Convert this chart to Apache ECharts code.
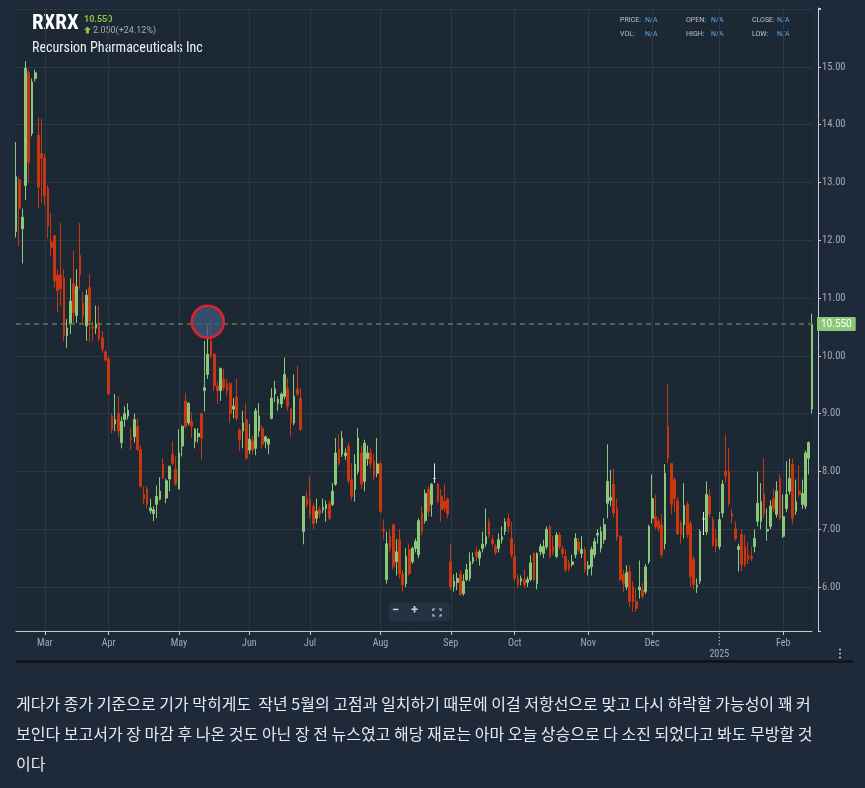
<!DOCTYPE html>
<html><head><meta charset="utf-8">
<script src="https://cdn.jsdelivr.net/npm/echarts@6/dist/echarts.min.js"></script>
<style>html,body{margin:0;padding:0;background:#1e2a39;} #c{width:865px;height:788px;}</style>
</head><body><div id="c"></div>
<script>
// ---------- data ----------
const holidays = ['2024-02-19','2024-03-29','2024-05-27','2024-06-19','2024-07-04','2024-09-02','2024-11-28','2024-12-25','2025-01-01','2025-01-09','2025-01-20'];
const startDate = '2024-02-16', endDate = '2025-02-14';
const opens = [
12.15,13.05,12.2,12.95,14.9,13.85,14.8,13.82,13.5,13.42,
12.9,11.97,12.08,11.4,11.4,11.35,10.35,10.55,11.25,10.7,
11.74,10.92,10.52,11.18,10.5,10.48,10.57,10.31,10.07,9.95,
8.96,8.82,9.0,8.5,8.9,8.96,8.58,8.6,8.78,8.38,
7.6,7.7,7.32,7.27,7.43,7.52,8.13,7.54,7.87,8.3,
8.04,7.7,8.44,9.22,8.84,8.87,8.52,8.6,9.0,9.4,
9.68,10.26,10.03,9.48,9.4,9.6,9.52,9.52,9.08,9.29,
8.72,8.7,8.9,8.37,8.53,8.4,8.7,8.75,8.52,8.47,
8.92,9.34,9.18,9.17,9.3,9.43,9.08,8.84,9.43,9.27,
6.96,7.53,7.52,7.4,7.19,7.34,7.34,7.36,7.45,7.43,
7.78,8.39,8.3,8.27,8.44,7.86,7.69,8.0,8.32,7.83,
8.22,8.32,8.18,7.97,8.14,7.0,6.13,6.88,7.08,6.44,
6.82,6.23,6.06,6.65,6.44,6.67,6.56,7.28,7.15,7.69,
7.43,7.88,7.78,7.57,7.48,7.52,6.44,6.01,6.08,6.22,
5.89,6.13,6.15,6.44,6.61,6.5,6.67,6.75,7.13,6.82,
6.7,6.67,6.82,6.96,7.19,6.84,6.53,6.15,6.1,6.13,
6.08,6.13,6.58,6.06,6.61,6.58,6.7,7.05,6.7,6.53,
6.9,6.67,6.53,6.41,6.39,6.56,6.78,6.58,6.65,6.32,
6.35,6.56,6.9,6.67,6.82,7.45,7.5,7.78,7.36,6.87,
6.22,6.0,6.27,6.01,5.75,5.95,5.95,5.92,6.44,7.19,
7.22,7.14,7.08,6.75,8.78,8.14,7.86,7.5,7.1,7.08,
7.43,7.1,6.48,6.0,6.1,7.18,6.96,7.57,7.17,6.84,
6.7,7.28,8.01,8.01,7.27,7.01,6.65,6.91,6.7,6.56,
6.53,6.7,7.14,7.14,7.62,6.97,7.05,7.53,7.26,7.88,
6.88,7.36,7.66,8.13,7.31,7.66,7.43,7.4,8.23,9.08];
const closes = [
13.1,12.55,12.4,14.98,13.35,14.74,14.9,12.92,13.42,12.78,
12.25,11.88,11.3,11.13,11.16,10.35,10.48,10.95,10.75,11.2,
11.4,10.7,11.05,10.6,10.48,10.55,10.3,10.12,9.93,9.34,
8.73,8.9,8.7,8.87,9.0,9.06,8.56,8.9,8.38,7.74,
7.52,7.43,7.37,7.34,7.57,7.66,7.89,7.84,8.09,8.14,
7.78,8.32,8.78,8.78,9.18,8.78,8.73,8.66,8.58,9.45,
10.03,10.0,9.48,9.4,9.78,9.45,9.4,9.0,9.13,8.92,
8.56,8.84,8.23,8.56,8.37,9.05,8.96,8.47,8.6,8.56,
9.27,9.43,9.25,9.34,9.68,9.13,8.84,9.3,9.34,8.73,
7.57,7.43,7.26,7.1,7.31,7.27,7.38,7.43,7.19,7.66,
8.32,8.14,8.58,8.32,7.84,7.57,8.13,8.58,7.78,8.49,
8.32,8.14,7.92,8.13,7.31,6.97,6.75,6.67,6.35,6.61,
6.23,6.04,6.53,6.23,6.67,6.79,7.15,6.96,7.62,7.31,
7.78,7.88,7.48,7.34,7.36,7.26,6.0,6.1,6.15,5.87,
6.1,6.3,6.44,6.51,6.53,6.61,6.74,6.87,6.9,6.75,
6.6,6.82,6.87,7.13,7.05,6.56,6.15,6.04,6.15,6.04,
6.13,6.42,6.13,6.58,6.7,6.7,7.0,6.53,6.61,6.9,
6.7,6.58,6.3,6.32,6.44,6.84,6.65,6.65,6.3,6.37,
6.65,6.79,6.93,6.96,7.08,7.83,7.55,7.28,6.87,6.13,
6.06,6.25,5.75,5.75,5.63,6.0,5.84,6.35,7.05,7.53,
7.05,7.01,6.56,7.97,8.23,7.43,7.53,6.92,6.91,7.41,
6.91,6.18,6.04,6.03,6.96,7.18,7.6,7.26,6.73,6.7,
7.17,7.78,7.92,7.45,7.22,6.84,6.7,6.39,6.39,6.48,
6.49,6.84,7.45,7.48,7.27,7.0,7.4,7.36,7.66,7.19,
7.22,7.6,7.88,7.19,7.48,7.6,7.62,8.32,8.5,10.55];
const lows = [
12.05,11.9,11.6,12.7,13.0,13.8,14.75,12.55,12.65,12.6,
12.03,11.74,11.18,10.75,10.87,10.26,10.14,10.38,10.57,10.57,
11.16,10.55,10.26,10.23,10.26,10.38,10.25,10.05,9.9,9.33,
8.66,8.7,8.6,8.4,8.77,8.9,8.38,8.5,8.35,7.72,
7.43,7.36,7.27,7.14,7.19,7.5,7.87,7.45,7.66,8.1,
7.75,7.69,8.26,8.75,8.8,8.58,8.4,8.5,8.2,9.04,
9.6,9.95,9.4,9.17,9.22,9.4,9.3,8.84,8.92,8.88,
8.35,8.4,8.2,8.3,8.3,8.28,8.6,8.4,8.4,8.3,
8.9,9.2,9.05,9.1,9.25,9.05,8.6,8.8,9.3,8.7,
6.74,7.38,7.19,7.0,7.1,7.2,7.28,7.13,7.15,7.4,
7.75,8.1,8.25,8.2,7.8,7.5,7.48,7.95,7.7,7.66,
8.1,8.05,7.85,7.9,7.28,6.82,6.06,6.6,6.3,6.2,
6.15,5.92,6.0,6.2,6.4,6.6,6.5,6.9,7.1,7.22,
7.22,7.8,7.45,7.13,7.3,7.19,5.95,5.92,5.95,5.85,
5.85,6.1,6.1,6.4,6.45,6.37,6.6,6.7,6.85,6.7,
6.55,6.6,6.75,6.9,6.95,6.5,6.1,5.98,6.03,5.98,
6.0,6.1,6.1,5.96,6.55,6.5,6.65,6.5,6.55,6.5,
6.65,6.5,6.25,6.27,6.35,6.5,6.6,6.5,6.25,6.2,
6.2,6.5,6.75,6.6,6.75,7.19,7.4,7.2,6.8,6.1,
5.92,5.95,5.66,5.57,5.57,5.8,5.8,5.88,6.4,7.1,
7.0,6.95,6.5,6.65,8.14,7.26,7.3,6.9,6.75,6.84,
6.85,6.0,5.96,5.9,6.05,6.9,6.9,7.2,6.7,6.6,
6.65,7.2,7.8,7.4,7.1,6.8,6.27,6.27,6.35,6.4,
6.45,6.6,7.05,7.0,7.2,6.8,7.0,7.3,7.2,7.15,
6.85,7.3,7.6,7.1,7.25,7.55,7.35,7.35,7.95,9.0];
const highs = [
13.7,13.1,12.55,15.1,14.95,14.8,14.95,14.13,14.1,13.5,
12.95,12.47,12.1,11.5,12.3,11.5,10.64,11.34,11.82,11.5,
12.3,11.1,11.15,11.42,10.6,10.87,10.87,10.43,10.1,10.0,
9.0,9.34,9.3,8.95,9.13,9.18,8.75,9.0,8.92,8.45,
7.74,7.74,7.53,7.4,7.76,7.9,8.23,7.87,8.1,8.52,
8.26,8.73,8.8,9.36,9.2,9.02,8.75,8.75,9.02,10.26,
10.52,10.64,10.05,9.57,9.8,9.78,9.6,9.55,9.27,9.6,
8.75,9.05,9.18,8.82,8.62,9.1,9.18,8.8,8.62,8.58,
9.44,9.57,9.3,9.37,9.97,9.62,9.1,9.68,9.83,9.44,
7.57,7.66,7.92,7.45,7.53,7.4,7.53,7.5,7.5,7.8,
8.58,8.64,8.7,8.4,8.5,8.14,8.3,8.75,8.45,8.55,
8.45,8.4,8.3,8.58,8.18,7.17,6.96,7.0,7.08,6.83,
7.0,6.3,6.67,6.75,6.7,6.84,7.19,7.4,7.69,7.75,
7.8,8.14,7.8,7.7,7.78,7.55,6.75,6.22,6.25,6.3,
6.22,6.4,6.6,6.6,6.7,6.65,6.96,7.36,7.19,6.9,
6.75,6.93,7.05,7.19,7.28,7.13,6.75,6.22,6.2,6.3,
6.18,6.55,6.61,6.6,6.75,6.82,7.05,7.08,6.88,6.95,
6.95,6.72,6.65,6.47,6.56,6.93,6.85,6.88,6.7,6.45,
6.7,6.85,7.0,7.05,7.19,8.47,8.03,8.05,7.53,6.9,
6.3,6.38,6.38,6.1,5.97,6.46,6.07,6.4,7.08,7.95,
7.6,7.2,7.26,8.13,9.51,8.14,7.9,7.55,7.15,7.8,
7.48,7.15,6.53,6.15,7.0,7.3,7.83,7.7,7.22,7.0,
7.3,7.85,8.63,8.4,7.35,7.14,6.75,7.0,6.91,6.78,
6.7,7.0,8.0,7.8,8.23,7.36,7.5,7.7,7.83,7.95,
7.6,8.18,8.22,8.23,7.86,8.1,7.86,8.36,8.52,10.73];
const lastPrice = 10.55;
const prevClose = 8.50;
const circleIdx = 60, circlePrice = 10.59;
const monthNames = ['Jan','Feb','Mar','Apr','May','Jun','Jul','Aug','Sep','Oct','Nov','Dec'];
const yTickLabels = [6,7,8,9,10,11,12,13,14,15];
const noteLines = [
 '게다가 종가 기준으로 기가 막히게도  작년 5월의 고점과 일치하기 때문에 이걸 저항선으로 맞고 다시 하락할 가능성이 꽤 커',
 '보인다 보고서가 장 마감 후 나온 것도 아닌 장 전 뉴스였고 해당 재료는 아마 오늘 상승으로 다 소진 되었다고 봐도 무방할 것',
 '이다'];

// ---------- build ----------
function tradingDays(s, e) {
  const out = []; const d = new Date(s + 'T00:00:00Z'); const end = new Date(e + 'T00:00:00Z');
  while (d <= end) {
    const wd = d.getUTCDay(); const str = d.toISOString().slice(0, 10);
    if (wd !== 0 && wd !== 6 && holidays.indexOf(str) < 0) out.push(str);
    d.setUTCDate(d.getUTCDate() + 1);
  }
  return out;
}
const dates = tradingDays(startDate, endDate);
const candles = opens.map((o, i) => [o, closes[i], lows[i], highs[i]]);
const isMonthStart = i => i > 0 && dates[i] && dates[i - 1] && dates[i].slice(5, 7) !== dates[i - 1].slice(5, 7);
const yearStartIdx = dates.findIndex((d, i) => i > 0 && d.slice(0, 4) !== dates[i - 1].slice(0, 4));

const UP = '#8cc87a', DOWN = '#c9360f';
const AX = '#c6cacf', LBL = '#a3abb4', GRIDC = '#2a3745';
const NARROW = '"Liberation Sans Narrow", "Roboto Condensed", Roboto, sans-serif';
const chg = lastPrice - prevClose;
const pct = chg / prevClose * 100;

const chart = echarts.init(document.getElementById('c'), null, {renderer: 'canvas'});
const graphics = [
  {type:'text', left:32, top:13, style:{text:'RXRX', fill:'#ffffff', font:'bold 21px ' + NARROW}},
  {type:'text', left:84, top:15, style:{text:lastPrice.toFixed(3), fill:'#8bc53f', font:'bold 9px Roboto'}},
  {type:'polygon', shape:{points:[[87.5,26.5],[91,30],[89,30],[89,33.5],[86,33.5],[86,30],[84,30]]}, style:{fill:'#8bc53f'}},
  {type:'text', left:93, top:26, style:{text:chg.toFixed(3) + '(+' + pct.toFixed(2) + '%)', fill:'#a7adb3', font:'9px Roboto'}},
  {type:'text', left:32, top:41, style:{text:'Recursion Pharmaceuticals Inc', fill:'#eef0f2', font:'14px ' + NARROW}},
  // info block
  {type:'text', left:620, top:17, style:{text:'PRICE:', fill:'#bfc5cb', font:'7px Roboto'}},
  {type:'text', left:645, top:17, style:{text:'N/A', fill:'#5ea6e2', font:'7px Roboto'}},
  {type:'text', left:686, top:17, style:{text:'OPEN:', fill:'#bfc5cb', font:'7px Roboto'}},
  {type:'text', left:711, top:17, style:{text:'N/A', fill:'#5ea6e2', font:'7px Roboto'}},
  {type:'text', left:752, top:17, style:{text:'CLOSE:', fill:'#bfc5cb', font:'7px Roboto'}},
  {type:'text', left:777, top:17, style:{text:'N/A', fill:'#5ea6e2', font:'7px Roboto'}},
  {type:'text', left:620, top:31, style:{text:'VOL:', fill:'#bfc5cb', font:'7px Roboto'}},
  {type:'text', left:645, top:31, style:{text:'N/A', fill:'#5ea6e2', font:'7px Roboto'}},
  {type:'text', left:686, top:31, style:{text:'HIGH:', fill:'#bfc5cb', font:'7px Roboto'}},
  {type:'text', left:711, top:31, style:{text:'N/A', fill:'#5ea6e2', font:'7px Roboto'}},
  {type:'text', left:752, top:31, style:{text:'LOW:', fill:'#bfc5cb', font:'7px Roboto'}},
  {type:'text', left:777, top:31, style:{text:'N/A', fill:'#5ea6e2', font:'7px Roboto'}},
  // zoom controls
  {type:'rect', shape:{x:389, y:603, width:61, height:18, r:2}, style:{fill:'#253243'}},
  {type:'text', left:392, top:604, style:{text:'−', fill:'#c9ced3', font:'bold 13px Roboto'}},
  {type:'text', left:411, top:604, style:{text:'+', fill:'#c9ced3', font:'bold 13px Roboto'}},
  {type:'polyline', shape:{points:[[433,611],[433,609],[435,609]]}, style:{stroke:'#c9ced3', lineWidth:1.2, fill:null}},
  {type:'polyline', shape:{points:[[439,609],[441,609],[441,611]]}, style:{stroke:'#c9ced3', lineWidth:1.2, fill:null}},
  {type:'polyline', shape:{points:[[433,614],[433,616],[435,616]]}, style:{stroke:'#c9ced3', lineWidth:1.2, fill:null}},
  {type:'polyline', shape:{points:[[439,616],[441,616],[441,614]]}, style:{stroke:'#c9ced3', lineWidth:1.2, fill:null}},
  // menu dots and separator
  {type:'circle', shape:{cx:840, cy:649.5, r:1}, style:{fill:'#c5c9ce'}},
  {type:'circle', shape:{cx:840, cy:653.5, r:1}, style:{fill:'#c5c9ce'}},
  {type:'circle', shape:{cx:840, cy:657.5, r:1}, style:{fill:'#c5c9ce'}},
  {type:'line', shape:{x1:16, y1:661.5, x2:853, y2:661.5}, style:{stroke:'#0a0d11', lineWidth:2}}
];
noteLines.forEach((t, i) => graphics.push({type:'text', left:16, top:696 + i * 30,
  style:{text:t, fill:'#e8eaed', font:'16px "Noto Sans CJK KR", sans-serif'}}));

chart.setOption({
  animation: false,
  backgroundColor: '#1e2a39',
  grid: {left:16, right:53, top:8, bottom:157, show:true, backgroundColor:'#1c2834', borderWidth:0},
  xAxis: {
    type:'category', data: dates, boundaryGap:false,
    axisLine:{lineStyle:{color:AX}},
    axisTick:{show:true, interval:(i) => isMonthStart(i) && i !== yearStartIdx, length:4, lineStyle:{color:AX}},
    axisLabel:{interval:(i) => isMonthStart(i), color:LBL, fontSize:10, fontFamily:NARROW, margin:7, lineHeight:11,
      formatter:(v) => { const m = +v.slice(5,7) - 1; return m === 0 ? '\n' + v.slice(0,4) : monthNames[m]; }},
    splitLine:{show:true, interval:(i) => isMonthStart(i), lineStyle:{color:GRIDC}}
  },
  yAxis: {
    type:'value', position:'right', offset:6, min:5.24, max:16.02, splitNumber:10, scale:true,
    axisLine:{show:true, lineStyle:{color:AX}},
    axisTick:{show:true, length:3, lineStyle:{color:AX}},
    axisLabel:{color:LBL, fontSize:10.5, fontFamily:NARROW, margin:4,
      formatter:(v) => yTickLabels.indexOf(Math.round(v * 100) / 100) >= 0 ? v.toFixed(2) : ''},
    splitLine:{show:true, showMaxLine:false, showMinLine:false, lineStyle:{color:GRIDC}}
  },
  series: [{
    type:'candlestick', data:candles, barWidth:2.2, clip:false,
    itemStyle:{color:UP, color0:DOWN, borderColor:UP, borderColor0:DOWN, borderColorDoji:'#e4e6e8', borderWidth:1},
    markLine:{
      symbol:['none','none'], silent:true,
      data:[{yAxis:lastPrice}],
      lineStyle:{color:'#5a7a5a', type:[5,4], width:1.5},
      label:{show:true, position:'end', formatter:lastPrice.toFixed(3), color:'#ffffff', backgroundColor:'#8cc87a',
        padding:[2,4,2,4], fontSize:10, fontFamily:'Roboto', distance:5, borderRadius:1}
    },
    markPoint:{
      silent:true,
      data:[{coord:[dates[circleIdx], circlePrice], symbol:'circle', symbolSize:32,
        itemStyle:{color:'rgba(62,88,124,0.78)', borderColor:'#e3212c', borderWidth:2.5}, label:{show:false}}]
    }
  }],
  graphic: graphics
});

// dotted year marker under the January tick
const yx = chart.convertToPixel({xAxisIndex:0}, dates[yearStartIdx]);
chart.setOption({graphic: graphics.concat([
  {type:'line', shape:{x1:yx, y1:633, x2:yx, y2:646}, style:{stroke:AX, lineWidth:1, lineDash:[1.5,2]}}
])});
</script></body></html>
